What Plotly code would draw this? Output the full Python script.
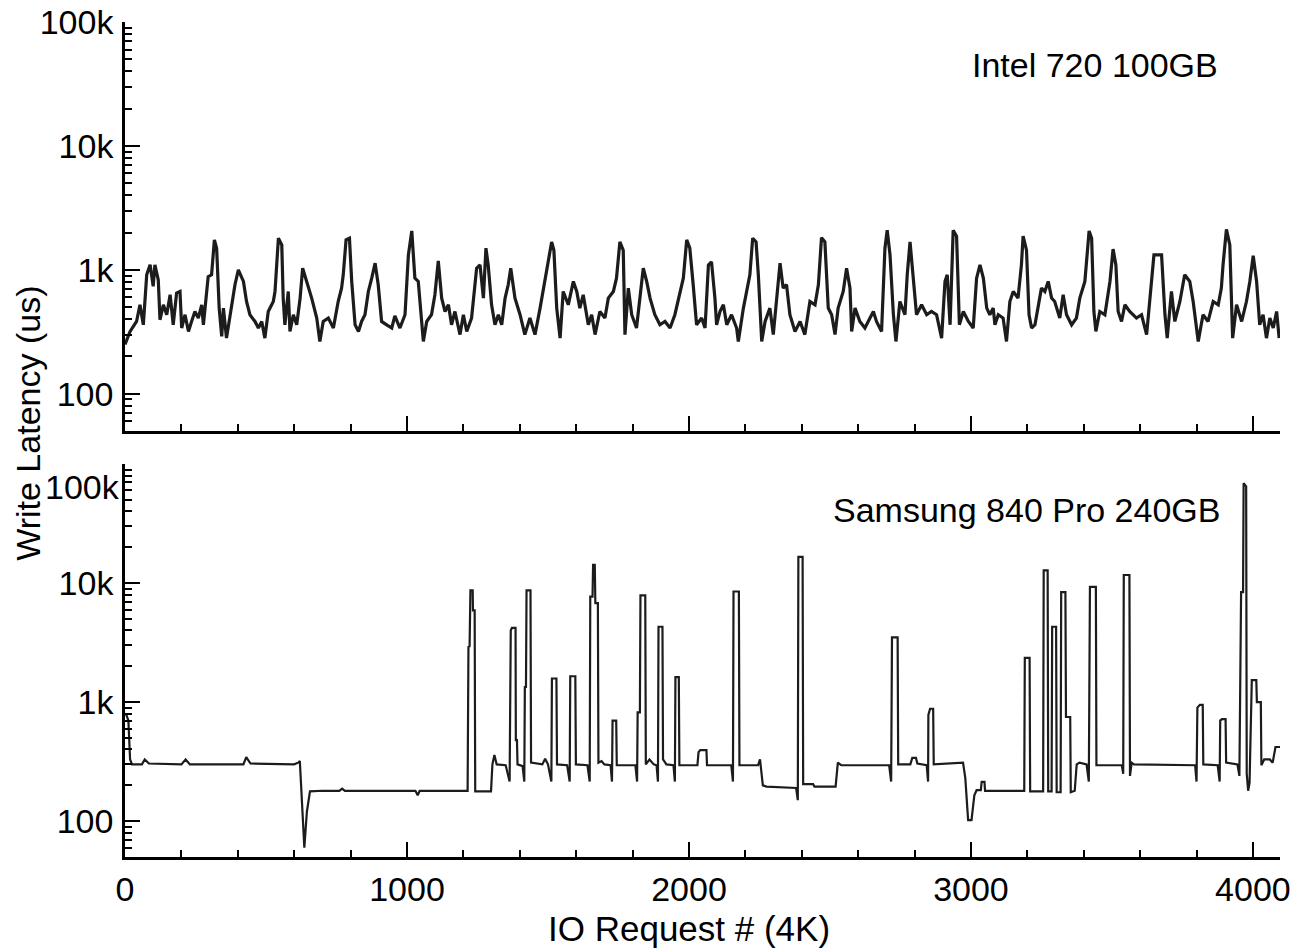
import math
import plotly.graph_objects as go

# ---------------- data ----------------
intel_x = [0, 18, 41, 53, 65, 77, 89, 100, 106, 118, 124, 136, 148, 160, 171, 183, 195, 201, 213, 225,
           236, 248, 260, 272, 278, 295, 307, 317, 325, 334, 343, 349, 360, 372, 390, 402, 420, 431, 443, 461,
           473, 485, 496, 508, 526, 532, 544, 556, 561, 567, 579, 585, 597, 609, 621, 630, 644, 662, 680, 691,
           703, 721, 739, 756, 768, 774, 784, 796, 804, 816, 828, 839, 851, 863, 875, 887, 898, 910, 928, 946,
           957, 975, 993, 1005, 1017,
           1028, 1040, 1052, 1058, 1070, 1087, 1099, 1111, 1123, 1135, 1147, 1158, 1170, 1188, 1200, 1212, 1229, 1247, 1259, 1271,
           1280, 1288, 1300, 1312, 1324, 1336, 1348, 1359, 1368, 1383, 1401, 1418, 1436, 1454, 1472, 1489, 1501, 1513, 1521, 1531,
           1543, 1554, 1572, 1590, 1602, 1613, 1625, 1643, 1655, 1667, 1684, 1702, 1714, 1732, 1743, 1755, 1767, 1773, 1785, 1797,
           1814, 1826, 1838, 1850, 1862, 1879, 1897, 1915, 1933, 1950, 1968, 1980, 1992, 2003, 2015, 2027, 2045,
           2057, 2069, 2080, 2092, 2098, 2110, 2122, 2134, 2151, 2169, 2175, 2193, 2204, 2216, 2226, 2238, 2246, 2252, 2258, 2270,
           2287, 2299, 2311, 2323, 2334, 2346, 2358, 2376, 2394, 2411, 2429, 2447, 2459, 2470, 2482, 2494, 2506, 2518, 2529, 2547,
           2559, 2571, 2577, 2589, 2606, 2624, 2642, 2654, 2665, 2683, 2695, 2703, 2713, 2725, 2734, 2748, 2766, 2774, 2784, 2796,
           2807, 2825, 2843, 2860, 2878, 2896, 2908, 2916, 2926, 2937, 2949, 2959, 2973, 2991, 3008, 3020, 3032, 3044, 3056, 3067,
           3079, 3085, 3097, 3114, 3126, 3138, 3150, 3167, 3179, 3185, 3197, 3206, 3215, 3227, 3238, 3250, 3262, 3274, 3286, 3297,
           3315, 3327, 3339, 3357, 3374, 3386, 3404, 3413, 3419, 3428, 3436, 3443, 3457, 3475, 3493, 3504, 3514, 3522, 3534, 3546,
           3563, 3587, 3605, 3623, 3640, 3649, 3664, 3676, 3688, 3696, 3711, 3723, 3741, 3758, 3776, 3788, 3806, 3823, 3841, 3859,
           3877, 3888, 3894, 3906, 3918, 3928, 3942, 3960, 3977, 3989, 4001, 4013, 4024, 4036, 4048, 4060, 4072, 4084, 4093]
intel_y = [250, 318, 383, 522, 360, 912, 1097, 735, 1097, 830, 395, 522, 434, 630, 360, 650, 669, 339, 434, 318,
           383, 461, 408, 522, 360, 880, 912, 1745, 1495, 491, 290, 491, 281, 434, 758, 1000, 806, 555, 434, 383,
           339, 383, 281, 461, 555, 669, 1800, 1590, 591, 360, 669, 318, 434, 360, 591, 1031, 806, 591, 408, 264,
           383, 408, 339, 555, 712, 912, 1745, 1800, 806, 360, 318, 383, 434, 669, 857, 1132, 758, 383, 360, 339,
           425, 339, 434, 1322, 2060,
           857, 806, 360, 264, 383, 434, 629, 1180, 591, 461, 522, 360, 461, 300, 434, 318, 408, 1031, 1097, 591,
           1495, 1097, 522, 360, 434, 360, 591, 758, 1031, 591, 434, 300, 408, 300, 491, 806, 1097, 1680, 1440, 491,
           281, 669, 522, 806, 669, 491, 629, 360, 434, 300, 461, 408, 591, 669, 857, 1680, 1440, 300, 712, 434,
           339, 591, 1031, 806, 591, 434, 360, 383, 339, 434, 669, 857, 1745, 1495, 758, 360, 408,
           339, 1097, 1160, 591, 360, 461, 522, 360, 434, 339, 264, 491, 669, 912, 1800, 1680, 912, 434, 264, 383,
           491, 300, 591, 1132, 712, 758, 434, 318, 383, 300, 555, 522, 758, 1820, 1680, 491, 434, 300, 491, 669,
           1031, 712, 318, 491, 383, 339, 408, 461, 383, 318, 1495, 2090, 1322, 434, 264, 555, 434, 912, 1680, 806,
           434, 522, 434, 461, 434, 281, 806, 912, 360, 2090, 1870, 360, 461, 383, 339, 857, 1097, 857, 491, 434,
           491, 360, 434, 408, 264, 555, 669, 591, 1097, 1870, 1440, 434, 339, 360, 522, 712, 669, 806, 591, 555,
           408, 629, 434, 360, 408, 591, 806, 1495, 2060, 1800, 461, 318, 461, 434, 806, 1470, 1097, 461, 383, 522,
           461, 408, 434, 300, 806, 1322, 1322, 1322, 434, 281, 669, 383, 555, 912, 806, 555, 264, 434, 383, 555,
           522, 712, 1097, 2120, 1590, 281, 522, 383, 555, 806, 1300, 806, 360, 434, 281, 408, 339, 461, 281]

samsung_x = [0, 5, 12, 18, 25, 60, 70, 85, 200, 215, 230, 420, 430, 445, 600, 614, 620, 628, 636, 645,
             656, 700, 760, 770, 780, 1030, 1038, 1045, 1215, 1218, 1222, 1225, 1233, 1234, 1240, 1242, 1298, 1303, 1310, 1318,
             1350, 1364, 1368, 1372, 1385, 1386, 1390, 1392, 1410, 1416, 1418, 1422, 1424, 1438, 1440, 1480, 1490, 1500, 1512, 1514,
             1530, 1532, 1568, 1577, 1579, 1597, 1599, 1640, 1648, 1650, 1658, 1660, 1666, 1668, 1677, 1679, 1690, 1700, 1722, 1727,
             1729, 1742, 1744, 1810, 1816, 1818, 1826, 1828, 1845, 1847, 1860, 1875, 1885, 1890, 1892, 1906, 1908, 1920, 1945, 1950,
             1952, 1964, 1966, 2030, 2034, 2040, 2062, 2064, 2150, 2156, 2158, 2177, 2179, 2245, 2252, 2262, 2275, 2380, 2386, 2388,
             2403, 2405, 2440, 2445, 2520, 2528, 2540, 2710, 2717, 2720, 2740, 2742, 2785, 2792, 2805, 2810, 2843, 2848, 2849, 2855,
             2866, 2868, 2972, 2980, 2990, 3002, 3012, 3020, 3035, 3038, 3048, 3050, 3189, 3191, 3208, 3210, 3256, 3258, 3272, 3274,
             3286, 3288, 3302, 3304, 3318, 3320, 3335, 3337, 3352, 3354, 3368, 3375, 3385, 3410, 3418, 3422, 3443, 3445, 3535, 3540,
             3542, 3562, 3564, 3570, 3578, 3795, 3800, 3803, 3812, 3822, 3824, 3875, 3882, 3884, 3890, 3903, 3905, 3945, 3952, 3958,
             3965, 3967, 3976, 3978, 3983, 3988, 3996, 4012, 4014, 4028, 4030, 4040, 4060, 4070, 4080, 4096]
samsung_y = [800, 780, 700, 330, 300, 300, 330, 305, 300, 330, 300, 300, 345, 305, 300, 310, 320, 150, 60, 120,
             178, 180, 180, 188, 180, 180, 165, 180, 180, 2900, 2950, 8700, 8700, 5900, 5900, 178, 178, 300, 360, 300,
             295, 215, 4000, 4200, 4200, 480, 480, 300, 290, 215, 1340, 1340, 8700, 8700, 310, 300, 335, 300, 215, 1580,
             1580, 300, 295, 215, 1650, 1650, 300, 295, 215, 7700, 7700, 14200, 14200, 6800, 6800, 310, 320, 300, 295, 215,
             700, 700, 295, 295, 215, 820, 820, 7900, 7900, 300, 330, 300, 295, 215, 4300, 4300, 330, 300, 295, 215,
             1620, 1620, 295, 295, 380, 395, 395, 295, 295, 215, 8500, 8500, 295, 295, 330, 200, 195, 190, 150, 16600,
             16600, 205, 205, 195, 195, 310, 295, 295, 215, 3500, 3500, 300, 300, 340, 340, 305, 295, 215, 780, 880,
             880, 300, 310, 230, 102, 102, 165, 182, 182, 214, 214, 180, 180, 2350, 2350, 178, 178, 12800, 12800, 178,
             178, 4300, 4300, 175, 175, 8400, 8400, 750, 750, 175, 180, 300, 310, 300, 215, 9300, 9300, 295, 295, 250,
             11700, 11700, 240, 310, 300, 295, 215, 900, 950, 950, 300, 295, 215, 700, 720, 720, 310, 300, 240, 8400,
             8400, 69000, 65000, 250, 180, 210, 1530, 1530, 1000, 1000, 295, 330, 330, 310, 420, 420]

panel_labels = ["Intel 720 100GB", "Samsung 840 Pro 240GB"]
x_title = "IO Request # (4K)"
y_title = "Write Latency (us)"
x_range = [0, 4096]
y_range = [50, 100000]

# ---------------- figure ----------------
FONT = "Liberation Sans, Arial, Helvetica, sans-serif"
INK = "#1c1c1c"
FS = 34

fig = go.Figure()
fig.add_trace(go.Scatter(x=intel_x, y=intel_y, mode="lines", xaxis="x", yaxis="y",
                         line=dict(color=INK, width=3.2), showlegend=False))
fig.add_trace(go.Scatter(x=samsung_x, y=samsung_y, mode="lines", xaxis="x2", yaxis="y2",
                         line=dict(color=INK, width=2.2), showlegend=False))

yr = [math.log10(y_range[0]), math.log10(y_range[1]) + 0.0008]

xaxis_common = dict(range=x_range, showline=True, linecolor="black", linewidth=2.5,
                    showgrid=False, zeroline=False, ticks="inside", ticklen=15, tickwidth=2,
                    tickcolor="black", dtick=1000, tick0=0, automargin=False,
                    minor=dict(ticks="inside", ticklen=7, tickwidth=2, tickcolor="black",
                               dtick=200, showgrid=False),
                    tickfont=dict(family=FONT, size=FS, color="black"))
yaxis_common = dict(type="log", range=yr, showline=True, linecolor="black", linewidth=2.5,
                    showgrid=False, zeroline=False, ticks="inside", ticklen=15, tickwidth=2,
                    tickcolor="black", dtick=1, tickformat="~s", automargin=False,
                    minor=dict(ticks="inside", ticklen=7, tickwidth=2, tickcolor="black",
                               dtick="D1", showgrid=False),
                    tickfont=dict(family=FONT, size=FS, color="black"), ticklabelstandoff=2)

fig.update_layout(
    template="none",
    xaxis=dict(**xaxis_common, anchor="y", showticklabels=False, matches="x2"),
    xaxis2=dict(**xaxis_common, anchor="y2"),
    yaxis=dict(**yaxis_common, domain=[0.5102, 1.0], anchor="x"),
    yaxis2=dict(**yaxis_common, domain=[0.0, 0.4707], anchor="x2", labelalias={"100k": " "}),
)

fig.add_annotation(xref="paper", yref="y2", x=0, y=5, text="100k", showarrow=False,
                   xanchor="right", yanchor="middle", xshift=-3, yshift=-23,
                   font=dict(family=FONT, size=FS, color="black"))
fig.add_annotation(xref="x", yref="y", x=3883, y=4.653, text=panel_labels[0],
                   showarrow=False, xanchor="right", yanchor="middle",
                   font=dict(family=FONT, size=FS, color="black"))
fig.add_annotation(xref="x2", yref="y2", x=3890, y=4.613, text=panel_labels[1],
                   showarrow=False, xanchor="right", yanchor="middle",
                   font=dict(family=FONT, size=FS, color="black"))
fig.add_annotation(xref="paper", yref="paper", x=-0.084, y=0.52, text=y_title, textangle=-90,
                   showarrow=False, xanchor="center", yanchor="middle",
                   font=dict(family=FONT, size=FS, color="black"))
fig.add_annotation(xref="paper", yref="paper", x=0.488, y=-0.0862, text=x_title,
                   showarrow=False, xanchor="center", yanchor="middle",
                   font=dict(family=FONT, size=35, color="black"))

fig.update_layout(width=1294, height=952, plot_bgcolor="white", paper_bgcolor="white",
                  margin=dict(l=125, r=14, t=22, b=95), showlegend=False)

fig.write_html("out.html", config={"displayModeBar": False},
               post_script="document.body.style.margin='0px';document.body.style.overflow='hidden';")
